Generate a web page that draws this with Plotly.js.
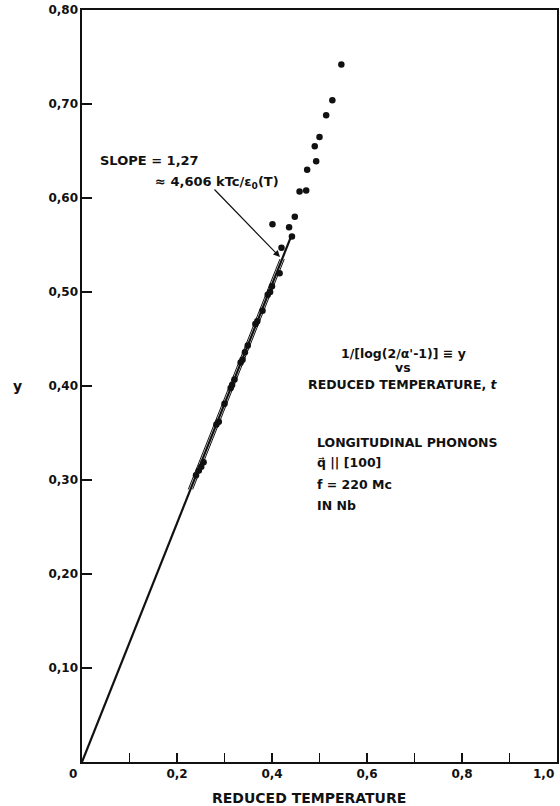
<!DOCTYPE html>
<html>
<head>
<meta charset="utf-8">
<script src="https://cdn.plot.ly/plotly-3.0.1.min.js"></script>
<style>html,body{margin:0;padding:0;background:#fff;}#chart{width:560px;height:806px;}</style>
</head>
<body>
<div id="chart"></div>
<script>
// Data points: reduced temperature t vs y = 1/[log(2/alpha' - 1)]
const tLine = [0.240, 0.246, 0.251, 0.256, 0.283, 0.288, 0.300, 0.313, 0.316, 0.321, 0.334, 0.338, 0.343, 0.349, 0.365, 0.369, 0.380, 0.391, 0.396, 0.400, 0.416];
const yLine = [0.305, 0.310, 0.314, 0.319, 0.359, 0.362, 0.381, 0.398, 0.401, 0.407, 0.425, 0.428, 0.436, 0.443, 0.466, 0.469, 0.480, 0.497, 0.500, 0.506, 0.520];
const tUpper = [0.401, 0.420, 0.436, 0.442, 0.448, 0.458, 0.472, 0.474, 0.490, 0.493, 0.500, 0.514, 0.527, 0.546];
const yUpper = [0.572, 0.547, 0.569, 0.559, 0.580, 0.607, 0.608, 0.630, 0.655, 0.639, 0.665, 0.688, 0.704, 0.742];
// Fitted line, slope 1.27, with the two thin parallel bounding lines
const fitSlope = 1.27;
const fitOffsets = [-0.0046, 0, 0.0046];
const fitYStart = [0.29, 0, 0.29];
const fitYEnd = [0.535, 0.5594, 0.535];

const xTickVals = [0, 0.1, 0.2, 0.3, 0.4, 0.5, 0.6, 0.7, 0.8, 0.9, 1.0];
const xTickText = ['', '', '0,2', '', '0,4', '', '0,6', '', '0,8', '', ''];
const originLabel = '0';
const endLabel = '1,0';
const yTickVals = [0, 0.1, 0.2, 0.3, 0.4, 0.5, 0.6, 0.7, 0.8];
const yTickText = ['', '0,10', '0,20', '0,30', '0,40', '0,50', '0,60', '0,70', '0,80'];

const FONT = 'DejaVu Sans, sans-serif';
const traces = [];
fitOffsets.forEach((off, i) => {
  const ys = [fitYStart[i], fitYEnd[i]];
  traces.push({
    x: ys.map(v => v / fitSlope + off), y: ys, mode: 'lines', type: 'scatter',
    line: {color: '#111', width: off === 0 ? 2.2 : 1.0}, hoverinfo: 'skip', showlegend: false
  });
});
traces.push({x: tLine, y: yLine, mode: 'markers', type: 'scatter',
  marker: {color: '#111', size: 6.5}, showlegend: false});
traces.push({x: tUpper, y: yUpper, mode: 'markers', type: 'scatter',
  marker: {color: '#111', size: 6.5}, showlegend: false});

const annFont = {family: FONT, size: 12.5, color: '#111', weight: 'bold'};
const slopeFont = {family: FONT, size: 13, color: '#111', weight: 'bold'};
const tickFont = {family: FONT, size: 12, color: '#111', weight: 'bold'};
const layout = {
  width: 560, height: 806,
  margin: {l: 82, r: 3, t: 10, b: 44, pad: 0},
  paper_bgcolor: '#fff', plot_bgcolor: '#fff',
  showlegend: false,
  xaxis: {
    range: [0, 1.0], tickmode: 'array', tickvals: xTickVals, ticktext: xTickText,
    ticks: 'inside', ticklen: 9, tickwidth: 1.3, tickcolor: '#111',
    showline: true, linecolor: '#111', linewidth: 1.6, mirror: true,
    showgrid: false, zeroline: false, tickfont: tickFont
  },
  yaxis: {
    range: [0, 0.80], tickmode: 'array', tickvals: yTickVals, ticktext: yTickText,
    ticks: 'inside', ticklen: 10, tickwidth: 1.3, tickcolor: '#111',
    showline: true, linecolor: '#111', linewidth: 1.6, mirror: true,
    showgrid: false, zeroline: false, tickfont: tickFont
  },
  annotations: [
    {xref: 'paper', yref: 'paper', x: -0.019, y: -0.0165, text: originLabel,
     showarrow: false, xanchor: 'center', yanchor: 'middle', font: tickFont},
    {xref: 'paper', yref: 'paper', x: 0.998, y: -0.0165, text: endLabel,
     showarrow: false, xanchor: 'right', yanchor: 'middle', font: tickFont},
    {xref: 'paper', yref: 'paper', x: 0.478, y: -0.048, text: 'REDUCED TEMPERATURE',
     showarrow: false, xanchor: 'center', yanchor: 'middle', font: {family: FONT, size: 14, color: '#111', weight: 'bold'}},
    {xref: 'paper', yref: 'y', x: -0.135, y: 0.40, text: 'y',
     showarrow: false, xanchor: 'center', yanchor: 'middle', font: {family: FONT, size: 14, color: '#111', weight: 'bold'}},
    {xref: 'x', yref: 'y', x: 0.034, y: 0.640, text: 'SLOPE = 1,27',
     showarrow: false, xanchor: 'left', yanchor: 'middle', font: slopeFont},
    {xref: 'x', yref: 'y', x: 0.150, y: 0.617, text: '≈ 4,606 kTc/ε<sub>0</sub>(T)',
     showarrow: false, xanchor: 'left', yanchor: 'middle', font: slopeFont},
    {xref: 'x', yref: 'y', axref: 'x', ayref: 'y', x: 0.4168, y: 0.5372, ax: 0.2758, ay: 0.6106,
     text: '', showarrow: true, arrowhead: 2, arrowsize: 1.1, arrowwidth: 1.2, arrowcolor: '#111'},
    {xref: 'x', yref: 'y', x: 0.676, y: 0.435, text: "1/[log(2/α'-1)] ≡ y",
     showarrow: false, xanchor: 'center', yanchor: 'middle', font: annFont},
    {xref: 'x', yref: 'y', x: 0.676, y: 0.420, text: 'vs',
     showarrow: false, xanchor: 'center', yanchor: 'middle', font: annFont},
    {xref: 'x', yref: 'y', x: 0.676, y: 0.402, text: 'REDUCED TEMPERATURE, <i>t</i>',
     showarrow: false, xanchor: 'center', yanchor: 'middle', font: annFont},
    {xref: 'x', yref: 'y', x: 0.4905, y: 0.3394, text: 'LONGITUDINAL PHONONS',
     showarrow: false, xanchor: 'left', yanchor: 'middle', font: annFont},
    {xref: 'x', yref: 'y', x: 0.4905, y: 0.319, text: 'q\u20D7 || [100]',
     showarrow: false, xanchor: 'left', yanchor: 'middle', font: annFont},
    {xref: 'x', yref: 'y', x: 0.4905, y: 0.2947, text: 'f = 220 Mc',
     showarrow: false, xanchor: 'left', yanchor: 'middle', font: annFont},
    {xref: 'x', yref: 'y', x: 0.4905, y: 0.2734, text: 'IN Nb',
     showarrow: false, xanchor: 'left', yanchor: 'middle', font: annFont}
  ]
};
Plotly.newPlot('chart', traces, layout, {staticPlot: true, displayModeBar: false});
</script>
</body>
</html>
